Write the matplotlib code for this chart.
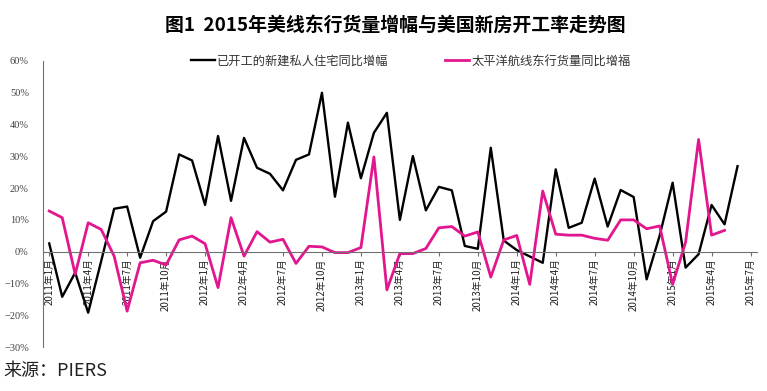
import numpy as np
import matplotlib.pyplot as plt
from matplotlib.ticker import FuncFormatter

plt.rcParams['font.family'] = ['Noto Sans CJK SC', 'DejaVu Sans']

# months 2011-01 .. 2015-07
months = [f"{2011 + i // 12}年{i % 12 + 1}月" for i in range(55)]

# 已开工的新建私人住宅同比增幅 (%), 2011-01 .. 2015-06
housing = [2.6, -14.2, -6.6, -19.2, -3.0, 13.5, 14.2, -1.9, 9.6, 12.6,
           30.6, 28.7, 14.7, 36.4, 16.0, 35.8, 26.4, 24.5, 19.3, 28.9,
           30.6, 50.0, 17.3, 40.6, 23.1, 37.4, 43.7, 10.0, 30.1, 13.0,
           20.4, 19.3, 1.8, 0.9, 32.7, 3.5, 0.5, -1.5, -3.5, 25.9,
           7.5, 9.1, 23.0, 7.9, 19.4, 17.2, -8.7, 5.0, 21.7, -5.0,
           -0.8, 14.7, 8.6, 26.9]

# 太平洋航线东行货量同比增福 (%), 2011-01 .. 2015-05
transpac = [12.8, 10.7, -7.1, 9.1, 7.0, -1.4, -18.7, -3.5, -2.7, -4.2,
            3.7, 4.9, 2.5, -11.3, 10.7, -1.4, 6.3, 3.0, 3.9, -3.7,
            1.7, 1.5, -0.3, -0.3, 1.3, 29.8, -12.0, -0.6, -0.6, 1.0,
            7.5, 7.9, 4.9, 6.2, -8.0, 3.7, 5.1, -10.3, 19.1, 5.5,
            5.2, 5.2, 4.2, 3.6, 10.0, 10.0, 7.2, 8.1, -10.3, 3.0,
            35.3, 5.2, 6.7]

fig = plt.figure(figsize=(7.67, 3.91), dpi=100)
ax = fig.add_axes([0.0557, 0.1125, 0.9313, 0.7315])

ax.spines['top'].set_visible(False)
ax.spines['right'].set_visible(False)
ax.spines['bottom'].set_position(('data', 0))
ax.spines['bottom'].set_color('#707070')
ax.spines['left'].set_color('#707070')

ax.plot(range(len(housing)), housing, color='black', lw=1.7,
        label='已开工的新建私人住宅同比增幅')
ax.plot(range(len(transpac)), transpac, color='#E2168E', lw=2.0,
        label='太平洋航线东行货量同比增福')

ax.set_xlim(-0.5, 54.5)
ax.set_ylim(-30, 60)
ax.set_yticks(range(-30, 61, 10))
ax.yaxis.set_major_formatter(FuncFormatter(lambda v, p: f"{v:.0f}%".replace('-', '−')))

idx = list(range(0, 55, 3))
ax.set_xticks(idx)
ax.set_xticklabels([months[i] for i in idx], rotation=90, va='top', ha='center',
                   fontsize=7, color='#222222')

ax.tick_params(axis='x', length=3, color='#707070', pad=2)
ax.tick_params(axis='y', length=0, pad=10, labelsize=7.5, labelcolor='#444444',
               labelfontfamily='Liberation Serif')

ax.legend(loc='center', bbox_to_anchor=(0.515, 1.0), ncol=2, frameon=False,
          fontsize=8.8, handlelength=2.0, handletextpad=0.15, columnspacing=4.6,
          labelcolor='#333333')

fig.text(0.515, 0.935, '图1  2015年美线东行货量增幅与美国新房开工率走势图',
         ha='center', va='center', fontsize=13.6, fontweight='bold')
fig.text(0.004, 0.05, '来源：PIERS', ha='left', va='center', fontsize=13,
         color='#222222')

fig.savefig('out.png', dpi=100)
